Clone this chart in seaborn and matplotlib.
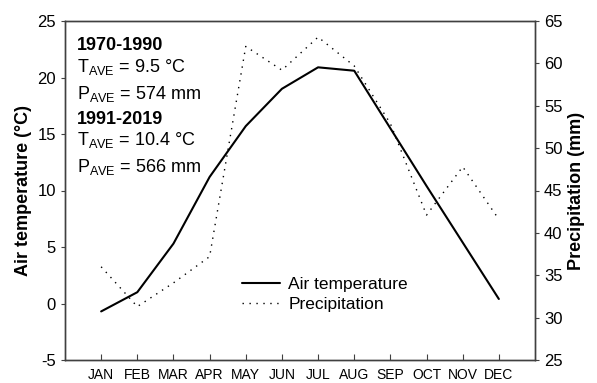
import matplotlib
matplotlib.use("Agg")
import matplotlib.pyplot as plt
import pandas as pd
import seaborn as sns

months = ["JAN", "FEB", "MAR", "APR", "MAY", "JUN", "JUL", "AUG", "SEP", "OCT", "NOV", "DEC"]
month_idx = list(range(1, 13))
air_temp = [-0.7, 1.0, 5.3, 11.2, 15.7, 19.0, 20.9, 20.6, 15.5, 10.4, 5.4, 0.4]
precip = [36.0, 31.3, 34.1, 37.2, 62.0, 59.2, 63.1, 59.7, 52.9, 42.1, 47.8, 41.6]

info_lines = [
    ("1970-1990", "bold"),
    (r"T$_{AVE}$ = 9.5 °C", "normal"),
    (r"P$_{AVE}$ = 574 mm", "normal"),
    ("1991-2019", "bold"),
    (r"T$_{AVE}$ = 10.4 °C", "normal"),
    (r"P$_{AVE}$ = 566 mm", "normal"),
]
info_baselines = [50, 72, 99, 124, 145, 172]  # pixel rows

sns.set_style("ticks")
plt.rcParams["font.family"] = ["Liberation Sans", "DejaVu Sans"]
plt.rcParams["mathtext.default"] = "regular"
plt.rcParams["axes.unicode_minus"] = False
plt.rcParams["text.color"] = "black"
plt.rcParams["axes.labelcolor"] = "black"
plt.rcParams["xtick.labelcolor"] = "black"
plt.rcParams["ytick.labelcolor"] = "black"

df = pd.DataFrame({"month": month_idx, "temp": air_temp, "precip": precip})

fig = plt.figure(figsize=(5.97, 3.83), dpi=100)
ax = fig.add_axes([65 / 597, 1 - 360 / 383, 470 / 597, 339 / 383])
ax2 = ax.twinx()

sns.lineplot(data=df, x="month", y="temp", ax=ax, color="black", linewidth=1.5,
             label="Air temperature", legend=False)
sns.lineplot(data=df, x="month", y="precip", ax=ax2, color="black", linewidth=1.0,
             linestyle=(0, (1, 4)), label="Precipitation", legend=False)

ax.set_xlim(0, 13)
ax.set_ylim(-5, 25)
ax2.set_ylim(25, 65)
ax.set_xticks(month_idx)
ax.set_xticklabels(months, fontsize=10)
ax.set_yticks(range(-5, 30, 5))
ax2.set_yticks(range(25, 70, 5))
ax.tick_params(axis="y", labelsize=12, direction="out", length=3, color="#404040")
ax2.tick_params(axis="y", labelsize=12, direction="out", length=3, color="#404040")
ax.tick_params(axis="x", direction="in", length=4, pad=6, color="#404040")
ax.set_xlabel("")
ax.set_ylabel("Air temperature (°C)", fontsize=13, fontweight="bold")
ax2.set_ylabel("Precipitation (mm)", fontsize=13, fontweight="bold")

for a in (ax, ax2):
    for sp in a.spines.values():
        sp.set_visible(True)
        sp.set_color("#404040")
        sp.set_linewidth(1.0)

for (txt, weight), base in zip(info_lines, info_baselines):
    ax.text((77 - 65) / 470, (360 - base) / 339, txt, transform=ax.transAxes,
            fontsize=13, fontweight=weight, va="baseline", ha="left")

h1, l1 = ax.get_legend_handles_labels()
h2, l2 = ax2.get_legend_handles_labels()
ax2.legend(h1 + h2, l1 + l2, loc="upper left", bbox_to_anchor=((226 - 65) / 470, (360 - 261) / 339),
           frameon=False, fontsize=12.5, handlelength=2.2, handletextpad=0.5, labelspacing=0.3)

fig.savefig("out.png", dpi=100)
